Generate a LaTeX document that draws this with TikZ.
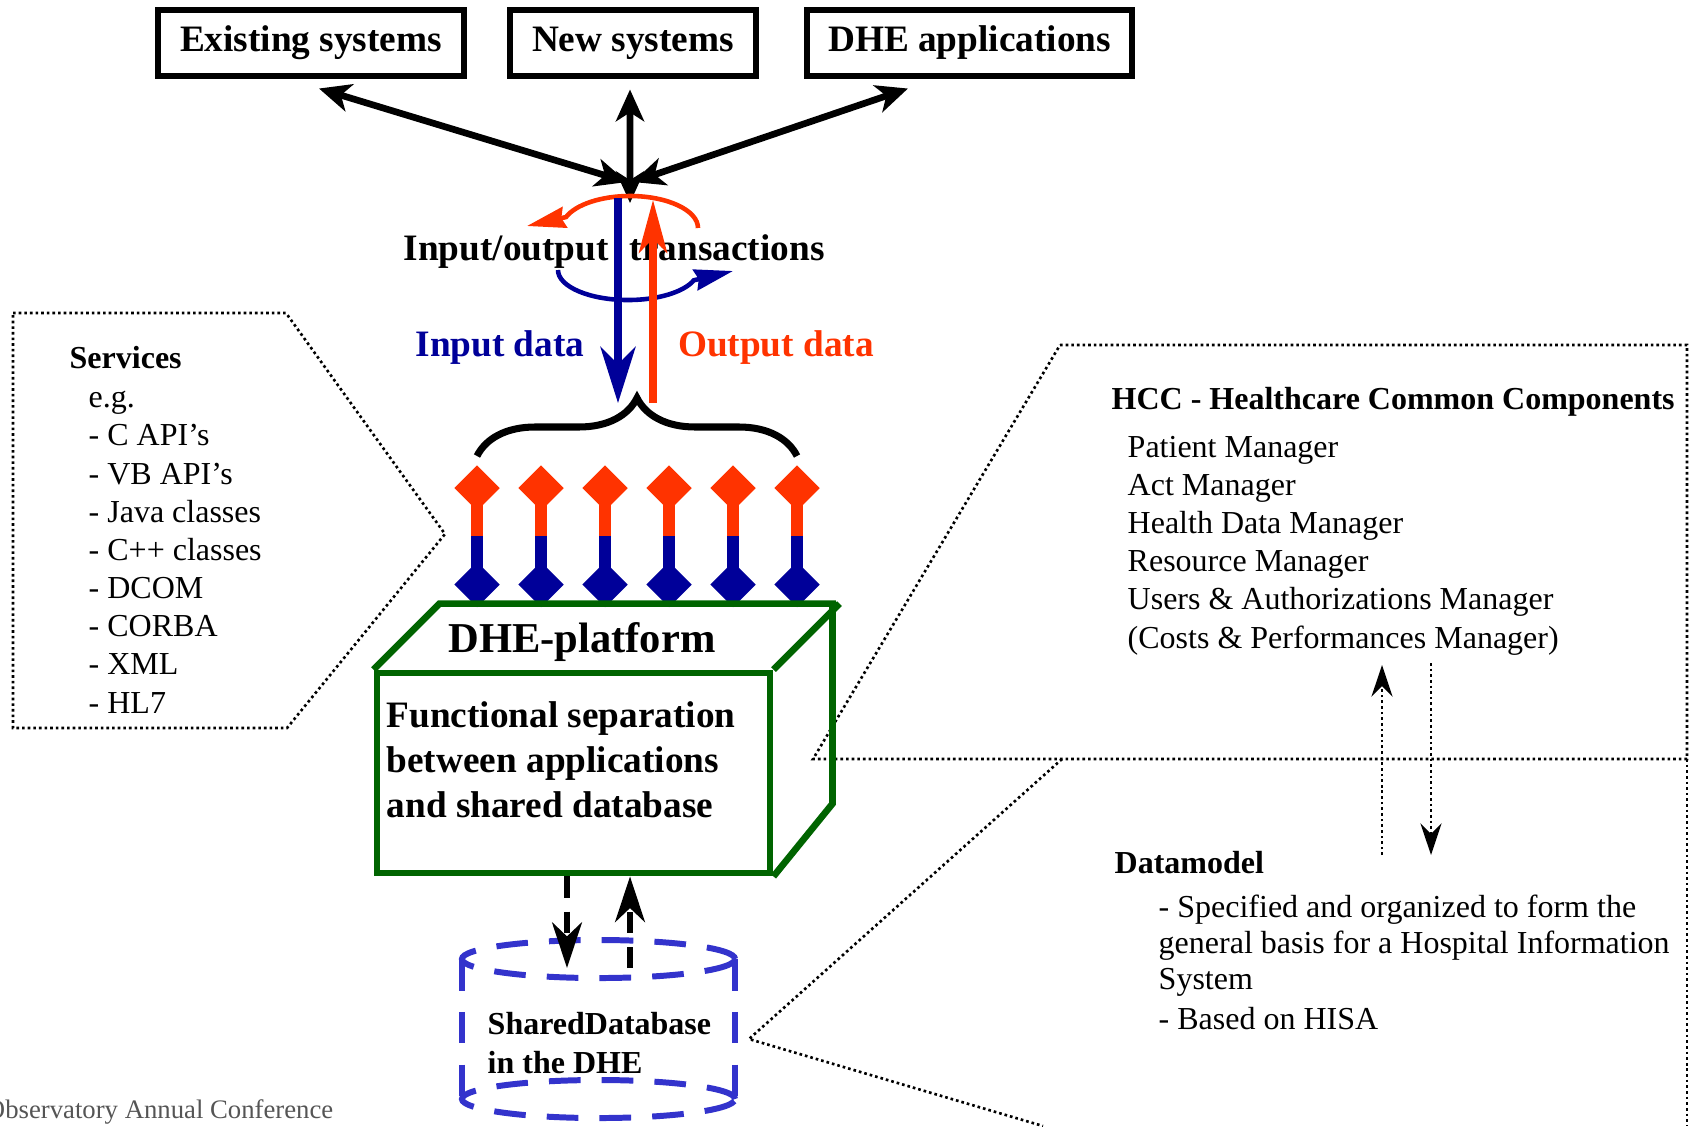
\documentclass[tikz,border=0pt]{standalone}
\usepackage{fontspec}
\setmainfont{Liberation Serif}
\usetikzlibrary{arrows.meta,shapes.geometric,decorations.pathreplacing}

\definecolor{dheblue}{RGB}{0,0,153}
\definecolor{dhered}{RGB}{255,51,0}
\definecolor{dhegreen}{RGB}{0,100,0}
\definecolor{dbblue}{RGB}{51,51,204}
\definecolor{footgray}{RGB}{85,85,85}

\begin{document}
\begin{tikzpicture}[x=0.01cm,y=-0.01cm,
    sysbox/.style={draw,line width=1.7pt,minimum height=0.66cm,inner sep=0pt,
      font=\fontsize{10.6}{12.7}\selectfont\bfseries},
    bigtext/.style={inner sep=0pt,font=\fontsize{10.6}{12.7}\selectfont\bfseries},
    listtext/.style={inner sep=0pt,align=left,anchor=base west,
      font=\fontsize{9.1}{10.85}\selectfont},
    headtext/.style={inner sep=0pt,anchor=base west,
      font=\fontsize{9.1}{10.85}\selectfont\bfseries},
    twoway/.style={line width=1.9pt,
      {Stealth[length=9pt,width=8pt,inset=2.5pt]}-{Stealth[length=9pt,width=8pt,inset=2.5pt]}},
    plug/.style={diamond,minimum size=0.46cm,inner sep=0pt},
    dotline/.style={line width=0.75pt,dash pattern=on 0.75pt off 0.85pt},
    dotarrow/.style={dotline,-{Stealth[length=9pt,width=6pt,inset=3pt]}},
    dbline/.style={dbblue,line width=1.7pt,dash pattern=on 9pt off 6pt},
    dbarrow/.style={line width=1.5pt,dash pattern=on 6pt off 4pt,
      -{Stealth[length=13pt,width=8.5pt,inset=4pt]}},
    boxline/.style={dhegreen,line width=1.9pt}]
\clip (0,0) rectangle (1691,1126);

% dotted callouts
\draw[dotline] (13,313) -- (286,313) -- (445,534) -- (287,728) -- (13,728) -- cycle;
\draw[dotline] (1060,345) -- (1687,345) -- (1687,759) -- (813,759) -- cycle;
\draw[dotline] (1062,759) -- (749,1039) -- (1043,1126);
\draw[dotline] (1687,759) -- (1687,1126);

% systems on top
\node[sysbox,minimum width=3.05cm] (exist) at (311,43) {Existing systems};
\node[sysbox,minimum width=2.45cm] (newsys) at (633,43) {New systems};
\node[sysbox,minimum width=3.24cm] (dheapp) at (969.5,43) {DHE applications};

\coordinate (existend) at ([xshift=0.08cm,yshift=-0.095cm]exist.south);
\coordinate (newend) at ([xshift=-0.03cm,yshift=-0.105cm]newsys.south);
\coordinate (dheend) at ([xshift=-0.615cm,yshift=-0.095cm]dheapp.south);
\coordinate (hubl) at (627,182);
\coordinate (hubr) at (633,182);
\coordinate (hubc) at (630,203);

\draw[twoway] (existend) -- (hubl);
\draw[twoway] (dheend) -- (hubr);
\draw[twoway] (newend) -- (hubc);

% transactions
\node[bigtext,anchor=base west] (trans) at (403,260) {Input/output\hspace{6pt}transactions};

\coordinate (redarc) at (698,228);
\coordinate (redtip) at (527,226);
\draw[dhered,line width=1.3pt,-{Stealth[length=11pt,width=6pt,inset=1pt]}]
  (redarc) arc[start angle=0,end angle=160,x radius=0.68cm,y radius=0.32cm] -- (redtip);
\coordinate (bluearc) at (558,270);
\coordinate (bluetip) at (733,271);
\draw[dheblue,line width=1.3pt,-{Stealth[length=11pt,width=6pt,inset=1pt]}]
  (bluearc) arc[start angle=180,end angle=340,x radius=0.7cm,y radius=0.3cm] -- (bluetip);

\coordinate (inbeg) at (618,198);
\coordinate (inend) at (618,403);
\coordinate (outbeg) at (653,403);
\coordinate (outend) at (653,200);
\draw[dheblue,line width=2pt,-{Stealth[length=16pt,width=10pt,inset=5pt]}] (inbeg) -- (inend);
\draw[dhered,line width=2pt,-{Stealth[length=15pt,width=8pt,inset=4pt]}] (outbeg) -- (outend);

\node[bigtext,anchor=base,text=dheblue] (indata) at (500,356) {Input data};
\node[bigtext,anchor=base,text=dhered] (outdata) at (776,356) {Output data};

% brace over the plugs
\coordinate (bracel) at (477,456);
\coordinate (bracer) at (797,456);
\draw[line width=2pt,decorate,decoration={brace,amplitude=0.58cm}] (bracel) -- (bracer);

\foreach \i/\x in {1/477,2/541,3/605,4/669,5/733,6/797}{
  \node[plug,fill=dhered] (top\i) at (\x,488) {};
  \node[plug,fill=dheblue] (bot\i) at (\x,584.5) {};
  \coordinate (mid\i) at (\x,536);
  \draw[dhered,line width=3.4pt] (top\i.center) -- (mid\i);
  \draw[dheblue,line width=3.4pt] (mid\i) -- (bot\i.center);
}

% platform box
\node[draw=dhegreen,line width=1.9pt,minimum width=3.93cm,minimum height=2cm,inner sep=0pt]
  (platform) at (573.5,773) {};
\draw[boxline] (platform.north west) -- ++(66,-66) -- ++(393,0) -- ++(0,200) -- (platform.south east);
\draw[boxline] (platform.north east) -- ++(66,-66);
\node[inner sep=0pt,anchor=base,font=\fontsize{12.1}{14.5}\selectfont\bfseries]
  (platname) at (582,652) {DHE-platform};
\node[bigtext,align=left,anchor=base west] (platdesc) at (386,817)
  {Functional separation\\between applications\\and shared database};

% shared database
\coordinate (dbtop) at (598.5,959);
\coordinate (dbbot) at (598.5,1099);
\draw[dbline] (dbtop) ellipse[x radius=1.365cm,y radius=0.19cm];
\draw[dbline] (dbbot) ellipse[x radius=1.365cm,y radius=0.19cm];
\draw[dbline] ([xshift=-1.365cm]dbtop) -- ([xshift=-1.365cm]dbbot);
\draw[dbline] ([xshift=1.365cm]dbtop) -- ([xshift=1.365cm]dbbot);
\node[headtext,align=left] (dbname) at (487,1073) {SharedDatabase\\in the DHE};

\coordinate (dbin) at (567,968);
\coordinate (dbout) at (630,968);
\draw[dbarrow] (platform.south -| dbin) -- (dbin);
\draw[dbarrow] (dbout) -- (platform.south -| dbout);

% services
\node[headtext] (services) at (69,368) {Services};
\node[listtext] (servlist) at (88,713)
  {e.g.\\- C API's\\- VB API's\\- Java classes\\- C++ classes\\- DCOM\\- CORBA\\- XML\\- HL7};

% common components and datamodel
\node[headtext] (hcc) at (1111,409) {HCC - Healthcare Common Components};
\node[listtext] (hcclist) at (1127,648)
  {Patient Manager\\Act Manager\\Health Data Manager\\Resource Manager\\
   Users \& Authorizations Manager\\(Costs \& Performances Manager)};

\coordinate (upbeg) at (1382,855);
\coordinate (upend) at (1382,665);
\coordinate (downbeg) at (1431,663);
\coordinate (downend) at (1431,855);
\draw[dotarrow] (upbeg) -- (upend);
\draw[dotarrow] (downbeg) -- (downend);

\node[headtext] (datamodel) at (1114,873) {Datamodel};
\node[listtext,font=\fontsize{9.1}{10.2}\selectfont] (dmlist) at (1158,1029)
  {- Specified and organized to form the\\general basis for a Hospital Information\\System\\[1pt]- Based on HISA};

\node[inner sep=0pt,anchor=base east,text=footgray,font=\fontsize{7.6}{9}\selectfont]
  (footer) at (334,1118) {Observatory Annual Conference};
\end{tikzpicture}
\end{document}
